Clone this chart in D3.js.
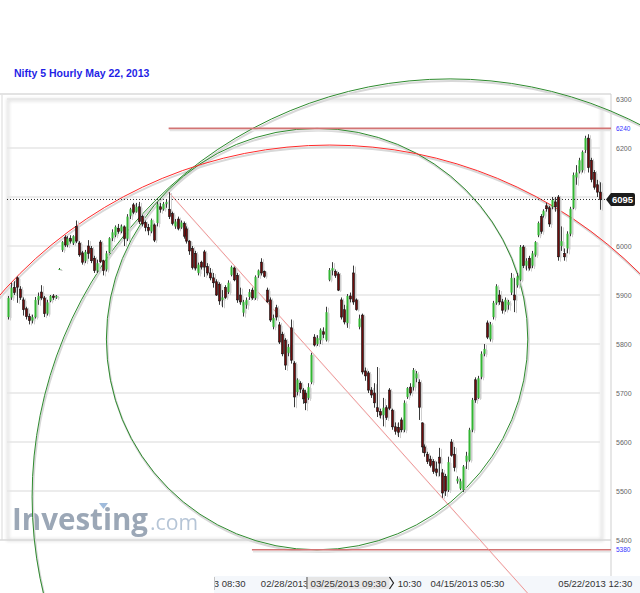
<!DOCTYPE html>
<html><head><meta charset="utf-8">
<script src="https://cdn.jsdelivr.net/npm/d3@7"></script>
<style>
html,body{margin:0;padding:0;background:#fff;}
svg{display:block;font-family:"Liberation Sans",Arial,sans-serif;}
</style></head><body>
<svg id="chart" width="640" height="593"></svg>
<script>
"use strict";

// --- DATA (5 hourly candles) ---
const opens = [
  5855,5895,5915,5935,5912,5890,5872,5856,5848,5855, 5890,5906,5894,5862,5888,5898,5895,5953,5992,6018,
  6002,6015,6006,6040,6006,5986,5970,6000,5995,5975, 5950,6008,5970,5952,5988,6016,6022,6036,6030,6039,
  6015,6062,6084,6070,6080,6060,6048,6038,6030,6043, 6047,6080,6075,6086,6075,6066,6040,6055,6038,6046,
  6035,6010,5995,5985,5945,5967,5988,5958,5945,5935, 5927,5922,5890,5915,5906,5941,5955,5940,5900,5864,
  5880,5896,5910,5894,5940,5967,5948,5910,5890,5835, 5874,5839,5820,5808,5782,5833,5761,5702,5720,5706,
  5700,5690,5722,5814,5800,5808,5825,5808,5931,5950, 5948,5943,5890,5870,5843,5898,5945,5890,5835,5859,
  5745,5741,5706,5700,5670,5662,5655,5670,5706,5665, 5631,5630,5645,5625,5692,5712,5712,5730,5722,5639,
  5590,5575,5565,5560,5545,5569,5537,5530,5502,5600, 5575,5520,5505,5502,5560,5563,5625,5727,5690,5733,
  5780,5843,5810,5855,5884,5900,5886,5870,5880,5905, 5900,5920,5931,5998,5960,5975,5960,5982,6022,6060,
  6062,6082,6078,6080,6090,6100,6000,5985,5995,6025, 6078,6140,6152,6155,6196,6220,6175,6150,6125,6110
];
const highs = [
  5898,5925,5928,5938,5918,5895,5876,5862,5860,5896, 5905,5920,5898,5890,5900,5902,5900,5955,6010,6022,
  6020,6022,6022,6052,6010,5990,5992,6012,6000,5980, 5972,6012,5972,5990,6018,6034,6042,6045,6044,6042,
  6065,6078,6088,6088,6090,6064,6052,6045,6056,6046, 6090,6088,6090,6095,6110,6070,6055,6060,6052,6050,
  6040,6012,6000,5990,5966,5970,5992,5965,5955,5945, 5932,5926,5910,5920,5930,5960,5958,5945,5915,5890,
  5895,5912,5915,5940,5952,5975,5950,5915,5895,5860, 5880,5845,5825,5812,5800,5850,5765,5730,5724,5710,
  5706,5720,5782,5820,5818,5832,5834,5876,5955,5967, 5952,5947,5895,5880,5902,5905,5960,5893,5860,5862,
  5752,5745,5712,5720,5753,5668,5690,5675,5710,5668, 5640,5640,5650,5685,5712,5720,5751,5745,5728,5640,
  5595,5580,5572,5565,5560,5588,5545,5535,5570,5606, 5590,5530,5525,5553,5580,5629,5690,5732,5735,5785,
  5800,5848,5845,5888,5922,5910,5892,5895,5890,5945, 5935,5945,6002,6002,5975,5980,5990,6010,6050,6065,
  6075,6088,6082,6100,6100,6104,6040,5995,6030,6080, 6150,6165,6180,6195,6225,6228,6180,6155,6135,6130
];
const lows = [
  5850,5890,5900,5884,5890,5858,5850,5840,5842,5852, 5880,5890,5855,5858,5885,5890,5892,5951,5988,5998,
  5998,6005,6002,6006,5978,5962,5965,5974,5965,5945, 5945,5965,5940,5948,5985,6010,6018,6025,6026,6000,
  6010,6055,6065,6068,6045,6040,6030,6022,6026,6008, 6040,6068,6072,6078,6055,6042,6035,6032,6035,6015,
  6005,5982,5952,5950,5940,5952,5937,5940,5930,5915, 5898,5880,5875,5892,5902,5938,5928,5884,5880,5856,
  5872,5890,5890,5890,5935,5940,5935,5884,5845,5830, 5848,5800,5775,5747,5775,5760,5671,5695,5700,5678,
  5665,5686,5718,5795,5796,5800,5812,5805,5928,5940, 5935,5908,5850,5840,5833,5885,5880,5868,5830,5738,
  5725,5700,5690,5670,5651,5648,5632,5645,5665,5625, 5615,5610,5620,5620,5688,5695,5705,5722,5645,5578,
  5570,5555,5548,5535,5530,5530,5486,5490,5498,5570, 5540,5515,5502,5498,5545,5560,5620,5680,5688,5728,
  5775,5810,5805,5850,5880,5880,5862,5866,5870,5900, 5865,5915,5928,5955,5950,5950,5955,5978,6018,6025,
  6058,6070,6039,6075,6070,5970,5990,5970,5985,6020, 6075,6125,6148,6150,6190,6150,6130,6115,6100,6074
];
const closes = [
  5894,5915,5905,5916,5895,5870,5856,5848,5855,5890, 5898,5894,5862,5885,5898,5895,5898,5953,6008,6002,
  6015,6010,6020,6010,5982,5967,5988,5985,5970,5950, 5965,5968,5950,5985,6016,6028,6039,6030,6040,6015,
  6060,6075,6069,6080,6050,6045,6038,6032,6053,6012, 6085,6075,6086,6090,6060,6046,6050,6036,6048,6020,
  6010,5990,5956,5955,5962,5957,5957,5945,5935,5925, 5900,5888,5895,5895,5925,5957,5931,5890,5886,5886,
  5890,5906,5894,5937,5950,5945,5938,5886,5849,5853, 5855,5804,5780,5757,5794,5767,5692,5727,5708,5688,
  5680,5712,5778,5798,5812,5829,5820,5865,5951,5955, 5940,5910,5855,5845,5898,5892,5886,5870,5852,5743,
  5735,5706,5696,5680,5662,5655,5670,5650,5669,5631, 5622,5620,5625,5680,5710,5700,5747,5740,5671,5590,
  5578,5560,5552,5540,5538,5557,5496,5500,5559,5573, 5548,5525,5520,5550,5572,5625,5686,5686,5730,5780,
  5790,5814,5840,5884,5918,5886,5869,5890,5886,5935, 5890,5938,5998,5960,5970,5955,5985,6008,6047,6030,
  6072,6076,6045,6094,6080,5978,6010,5978,6025,6076, 6145,6150,6175,6192,6220,6160,6136,6120,6110,6095
];

const priceTicks = [5400, 5500, 5600, 5700, 5800, 5900, 6000, 6100, 6200, 6300];
const levelPrices = [6240, 5380];
const levelStartIdx = [54, 82];
const lastPrice = 6095;

// drawing objects in chart units: centre (candle index, price), radius in points
const circleIdx = [103.9, 148.6, 108.2];
const circlePrice = [5810, 5488, 5312];
const circleRadius = [430, 853, 894];
const circleKind = ["green", "green", "red"];

// trend line: candle index / price of its two anchors
const trendIdx = [54, 146];
const trendPrice = [6110, 5486];

// time axis: only the parts of the labels left uncovered by the cursor box
const dateLabels = ["02/13/2013 08:30", "02/28/2013", "10:30", "04/15/2013 05:30", "05/22/2013 12:30"];
const dateIdx = [55, 85, 131, 142, 185];
const cursorLabel = "03/25/2013 09:30";
const cursorIdx = 100;

// --- LAYOUT ---
const L = { left: 8, right: 600, top: 99, bottom: 540, axisX: 611, panelL: 7, gridR: 600 };
const C = { up: "#33b633", down: "#6d0b0b", wick: "#3a3a3a", shadow: "#cfcfcf", green: "#2e8b2e", red: "#ff2b2b", level: "#d27474", trend: "#f08a8a" };

const svg = d3.select("#chart");
const x = d3.scaleLinear().domain([0, closes.length - 1]).range([L.left, L.right]);
const y = d3.scaleLinear().domain([5400, 6300]).range([L.bottom, L.top]);
const pxPerPt = (L.bottom - L.top) / 900;

// --- FRAME ---
const defs = svg.append("defs");
defs.append("filter").attr("id", "soft").append("feGaussianBlur").attr("stdDeviation", 1.6);
defs.append("clipPath").attr("id", "axisClip").append("rect")
    .attr("x", 215).attr("y", 570).attr("width", 425).attr("height", 23);

svg.append("text").attr("x", 14).attr("y", 77)
    .attr("fill", "#1f1fe6").style("font-size", "10.5px").style("font-weight", "bold")
    .text("Nifty 5 Hourly May 22, 2013");

svg.append("rect").attr("x", 0).attr("y", 93).attr("width", L.axisX).attr("height", 2).attr("fill", "#e3e3e3");
svg.append("rect").attr("x", 1).attr("y", 95).attr("width", 2).attr("height", 445).attr("fill", "#ececec");
svg.append("rect").attr("x", L.panelL + 1).attr("y", L.top + 1).attr("width", 594).attr("height", 440)
    .attr("fill", "none").attr("stroke", "#e4e4e4").attr("stroke-width", 3).attr("filter", "url(#soft)");

// grid
svg.append("g").selectAll("line").data(priceTicks.filter(p => p !== 5400)).enter().append("line")
    .attr("x1", L.panelL).attr("x2", L.gridR).attr("y1", d => y(d)).attr("y2", d => y(d))
    .attr("stroke", "#e6e6e6").attr("stroke-width", 1.5);
svg.append("line").attr("x1", 0).attr("x2", L.axisX).attr("y1", y(5400)).attr("y2", y(5400))
    .attr("stroke", "#d9d9d9").attr("stroke-width", 1.5);

// watermark: word fitted to its width, ".com" placed right after it
const wm = svg.append("g").attr("opacity", 0.85);
const wmWord = wm.append("text").attr("x", 12).attr("y", 530).attr("fill", "#8a98aa")
    .style("font-family", "'Open Sans', sans-serif").style("font-size", "35px").style("font-weight", "bold")
    .text("Investing");
const wordW = wmWord.node().getComputedTextLength();
wmWord.style("font-size", (35 * 136 / wordW).toFixed(2) + "px");
const wmCom = wm.append("text").attr("x", 150).attr("y", 530).attr("fill", "#a9bbd0")
    .style("font-family", "'Open Sans', sans-serif").style("font-size", "33px")
    .text(".com");
const comW = wmCom.node().getComputedTextLength();
wmCom.style("font-size", Math.min(33, 33 * 48 / comW).toFixed(2) + "px");
wm.append("path").attr("d", "M99,503 L108,503 L103.5,509 Z").attr("fill", "#8fb0d6");

// right axis (the tick hidden under the last-price tag is left out)
svg.append("line").attr("x1", L.axisX).attr("x2", L.axisX).attr("y1", 94).attr("y2", 580)
    .attr("stroke", "#cfcfcf");
svg.append("g").selectAll("text").data(priceTicks.filter(p => Math.abs(p - lastPrice) > 15)).enter().append("text")
    .attr("x", 616).attr("y", d => y(d) + 2.5).attr("fill", "#666").style("font-size", "7px")
    .text(d => d);
svg.append("g").selectAll("text").data(levelPrices).enter().append("text")
    .attr("x", 616).attr("y", d => y(d) + 2.5).attr("fill", "#3535ff").style("font-size", "6.5px")
    .text(d => d);

// bottom axis
svg.append("rect").attr("x", 214).attr("y", 576).attr("width", 426).attr("height", 17).attr("fill", "#f4f7fb");
svg.append("line").attr("x1", 214.5).attr("x2", 214.5).attr("y1", 577).attr("y2", 590).attr("stroke", "#c4c4c4");
svg.append("g").attr("clip-path", "url(#axisClip)").selectAll("text").data(dateLabels).enter().append("text")
    .attr("x", (d, i) => x(dateIdx[i])).attr("y", 587).attr("fill", "#333").style("font-size", "9.5px")
    .text(d => d);
const cur = svg.append("g");
const cx0 = x(cursorIdx) + 1;
cur.append("rect").attr("x", cx0).attr("y", 577).attr("width", 83).attr("height", 12).attr("fill", "#e6e6e6");
cur.append("line").attr("x1", cx0 + 0.5).attr("x2", cx0 + 0.5).attr("y1", 577).attr("y2", 589)
    .attr("stroke", "#555");
cur.append("path").attr("d", `M${cx0 + 83},577 L${cx0 + 87},583 L${cx0 + 83},589`)
    .attr("fill", "none").attr("stroke", "#222").attr("stroke-width", 1.2);
cur.append("text").attr("x", cx0 + 4).attr("y", 587).attr("fill", "#333").style("font-size", "9.5px")
    .attr("textLength", 76).attr("lengthAdjust", "spacingAndGlyphs").text(cursorLabel);

// --- DRAWINGS ---
["shadow", "main"].forEach(layer => {
    const sh = layer === "shadow";
    const gD = svg.append("g").attr("fill", "none").attr("transform", sh ? "translate(1,2)" : null);

    gD.selectAll("circle").data(circleIdx).enter().append("circle")
        .attr("cx", d => x(d)).attr("cy", (d, i) => y(circlePrice[i]))
        .attr("r", (d, i) => circleRadius[i] * pxPerPt)
        .attr("stroke", (d, i) => sh ? "#d8d8d8" : (circleKind[i] === "red" ? C.red : C.green))
        .attr("stroke-width", sh ? 2 : 1);

    gD.selectAll("line.level").data(levelPrices).enter().append("line").attr("class", "level")
        .attr("x1", (d, i) => x(levelStartIdx[i])).attr("x2", L.axisX)
        .attr("y1", d => y(d)).attr("y2", d => y(d))
        .attr("stroke", sh ? "#e4e4e4" : C.level).attr("stroke-width", 1.6);

    // trend line extended to the bottom of the picture
    const x0 = x(trendIdx[0]), y0 = y(trendPrice[0]);
    const slope = (y(trendPrice[1]) - y0) / (x(trendIdx[1]) - x0);
    gD.append("line").attr("x1", x0).attr("y1", y0).attr("x2", x0 + (593 - y0) / slope).attr("y2", 593)
        .attr("stroke", sh ? "#eeeeee" : C.trend).attr("stroke-width", 0.9);
});

// --- CANDLES ---
const idx = d3.range(closes.length);
function drawCandles(shadow) {
    const gC = svg.append("g").attr("transform", shadow ? "translate(2,1)" : null);
    gC.selectAll("line").data(idx).enter().append("line")
        .attr("x1", i => Math.round(x(i)) + 0.5).attr("x2", i => Math.round(x(i)) + 0.5)
        .attr("y1", i => y(highs[i])).attr("y2", i => y(lows[i]))
        .attr("stroke", shadow ? C.shadow : C.wick).attr("stroke-width", 1);
    gC.selectAll("rect").data(idx).enter().append("rect")
        .attr("x", i => Math.round(x(i)) - 0.5).attr("width", 2)
        .attr("y", i => y(Math.max(opens[i], closes[i])))
        .attr("height", i => Math.max(1, Math.abs(y(opens[i]) - y(closes[i]))))
        .attr("fill", i => shadow ? C.shadow : (closes[i] >= opens[i] ? C.up : C.down))
        .attr("stroke", i => shadow ? "none" : (closes[i] >= opens[i] ? "none" : "#111"))
        .attr("stroke-width", 0.6);
}
drawCandles(true);
drawCandles(false);

// last price line + tag
const yl = y(lastPrice);
svg.append("line").attr("x1", L.panelL).attr("x2", 605).attr("y1", yl).attr("y2", yl)
    .attr("stroke", "#222").attr("stroke-dasharray", "1,2");
svg.append("path").attr("d", `M606,${yl} L611,${yl - 6.5} H633 Q635,${yl - 6.5} 635,${yl - 4.5} V${yl + 4.5} Q635,${yl + 6.5} 633,${yl + 6.5} H611 Z`)
    .attr("fill", "#1c1c1c");
svg.append("text").attr("x", 622.5).attr("y", yl + 3.5).attr("text-anchor", "middle")
    .attr("fill", "#fff").style("font-size", "9.5px").style("font-weight", "bold").text(lastPrice);
</script>
</body></html>
